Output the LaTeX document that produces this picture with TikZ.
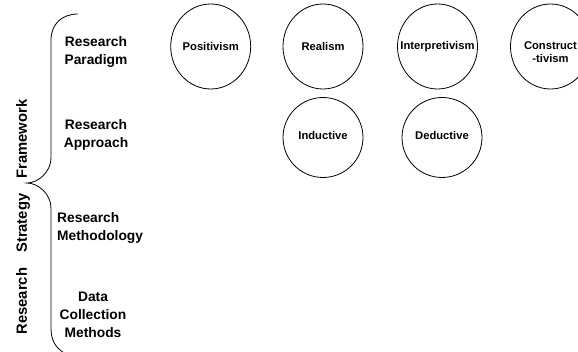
\documentclass[tikz,border=0pt]{standalone}
\usepackage{fontspec}
\setmainfont{Liberation Sans}
\usetikzlibrary{shapes.geometric}
\tikzset{
  x=1pt, y=-1pt,
  bubtext/.style={align=center, inner sep=0pt, font=\fontsize{11.2}{13}\selectfont\bfseries},
  bubble/.style={draw, ellipse, line width=0.8pt, minimum width=80pt, minimum height=85pt, inner sep=0pt,
    label={[bubtext]center:#1}},
  lowbubble/.style={draw, ellipse, line width=0.8pt, minimum width=80pt, minimum height=80pt, inner sep=0pt,
    label={[bubtext, yshift=2pt]center:#1}},
  twobubble/.style={draw, ellipse, line width=0.8pt, minimum width=80pt, minimum height=85pt, inner sep=0pt,
    label={[bubtext, yshift=-6pt]center:#1}},
  rowlabel/.style={align=center, inner sep=0pt, font=\fontsize{13.8}{18}\selectfont\bfseries},
  bracepath/.style={draw, line width=0.8pt},
  sidelabel/.style={rotate=90, anchor=base, inner sep=0pt, font=\fontsize{14.8}{16}\selectfont\bfseries}
}
\begin{document}
\begin{tikzpicture}
\useasboundingbox (0,0) rectangle (578,352);
\clip (0,0) rectangle (578,352);
% bubbles
\node[bubble={Positivism}] (pos) at (210.7,46.5) {};
\node[bubble={Realism}] (rea) at (323,46.5) {};
\node[bubble={Interpretivism}] (int) at (437.5,46.5) {};
\node[twobubble={Construct\\-tivism}] (con) at (550.5,46.5) {};
\node[lowbubble={Inductive}] (ind) at (323,137.5) {};
\node[lowbubble={Deductive}] (ded) at (442,137.5) {};
% row labels
\node[rowlabel] (par) at (96,52) {Research\\Paradigm};
\node[rowlabel] (app) at (96,135) {Research\\Approach};
\node[rowlabel, align=left, anchor=west] (met) at (57,228) {Research\\Methodology};
\node[rowlabel] (dat) at (93,315) {Data\\Collection\\Methods};
% braces
\draw[bracepath] (78,14) .. controls (62,14) and (51,24) .. (51,40) -- (51,158)
  .. controls (51,172) and (38,183) .. (27,183)
  .. controls (38,183) and (51,194) .. (51,208) -- (51,328)
  .. controls (51,340) and (55,347) .. (64,353);
% side label
\node[sidelabel] (side) at (27,217) {Research\hspace{15pt}Strategy\hspace{15pt}Framework};
\end{tikzpicture}
\end{document}
